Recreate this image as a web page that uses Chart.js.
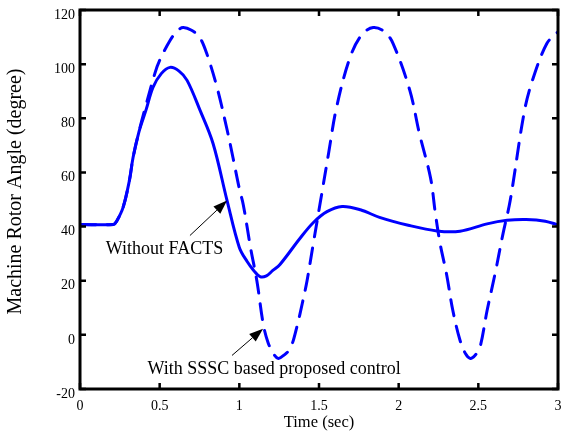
<!DOCTYPE html>
<html>
<head>
<meta charset="utf-8">
<script src="https://cdn.jsdelivr.net/npm/chart.js@4.4.1/dist/chart.umd.min.js"></script>
<style>
  html, body { margin: 0; padding: 0; background: #fff; }
  canvas { display: block; }
</style>
</head>
<body>
<canvas id="myChart" width="561" height="436"></canvas>
<script>
// rotor angle traces (time in sec, angle in degree)
const solidTime = [0, 0.21, 0.23, 0.27, 0.31, 0.333, 0.37, 0.414, 0.458, 0.51, 0.565, 0.62, 0.672, 0.753, 0.835, 0.923, 1.0, 1.05, 1.09, 1.13, 1.17, 1.21, 1.255, 1.38, 1.465, 1.55, 1.645, 1.76, 1.88, 2.06, 2.24, 2.385, 2.555, 2.68, 2.8, 2.92, 3.0];
const solidAngle = [40.8, 40.8, 42, 47, 57, 65.5, 75, 83, 91.4, 96.5, 98.8, 97.5, 94, 83, 70.7, 49.6, 32.3, 27, 23.8, 21.5, 21.8, 23.8, 26, 35.6, 41.5, 45.5, 47.4, 46.2, 43.4, 40.5, 38.4, 38.3, 41, 42.3, 42.6, 42, 40.6];

const dashTime = [0, 0.21, 0.23, 0.27, 0.31, 0.333, 0.37, 0.41, 0.47, 0.5, 0.565, 0.61, 0.647, 0.7, 0.75, 0.795, 0.86, 0.92, 0.96, 1.0, 1.025, 1.07, 1.11, 1.15, 1.18, 1.215, 1.245, 1.28, 1.32, 1.36, 1.395, 1.425, 1.465, 1.51, 1.56, 1.61, 1.695, 1.77, 1.84, 1.91, 1.965, 2.07, 2.13, 2.2, 2.23, 2.26, 2.3, 2.34, 2.385, 2.42, 2.45, 2.48, 2.51, 2.555, 2.605, 2.655, 2.7, 2.79, 2.845, 2.93, 3.0];
const dashAngle = [40.8, 40.8, 42, 47, 57, 65.5, 75, 84, 96.6, 101.4, 108.7, 112.3, 113.5, 112.5, 110, 104, 91.4, 76.6, 65.5, 54, 48, 32.3, 20, 4, -2.8, -7, -8.7, -7.5, -5, 2.7, 11.6, 20, 34, 49.6, 67, 84, 102.5, 111, 113.5, 112, 107.6, 90.3, 74.4, 58, 45, 33.7, 22.6, 9, -2, -7, -8.7, -7.5, -4.7, 9, 22.6, 37.4, 49.6, 82.9, 95, 107.6, 112];

const xTicks = [0, 0.5, 1, 1.5, 2, 2.5, 3];
const yTicks = [-20, 0, 20, 40, 60, 80, 100, 120];

const serif = "'Liberation Serif', 'Times New Roman', serif";

function pts(xs, ys) {
    return xs.map((t, i) => ({ x: t, y: ys[i] }));
}

// text notes with arrows, placed in data units
const notes = [
    { text: "Without FACTS", tx: 0.53, ty: 31.5, from: [0.69, 36.7], to: [0.923, 49.6] },
    { text: "With SSSC based proposed control", tx: 1.218, ty: -12.8, from: [0.954, -7.6], to: [1.149, 2.3] },
];

const frameAndNotes = {
    id: "frameAndNotes",
    afterDatasetsDraw(chart) {
        const { ctx, chartArea: a, scales: { x, y } } = chart;
        ctx.save();
        ctx.strokeStyle = "#000";
        ctx.lineWidth = 3;
        ctx.strokeRect(a.left, a.top, a.right - a.left, a.bottom - a.top);

        // inward tick marks on all four sides
        ctx.lineWidth = 2.5;
        ctx.beginPath();
        x.ticks.forEach(tk => {
            const px = x.getPixelForValue(tk.value);
            ctx.moveTo(px, a.bottom); ctx.lineTo(px, a.bottom - 6);
            ctx.moveTo(px, a.top); ctx.lineTo(px, a.top + 6);
        });
        y.ticks.forEach(tk => {
            const py = y.getPixelForValue(tk.value);
            ctx.moveTo(a.left, py); ctx.lineTo(a.left + 6, py);
            ctx.moveTo(a.right, py); ctx.lineTo(a.right - 6, py);
        });
        ctx.stroke();

        // notes
        ctx.fillStyle = "#000";
        ctx.font = "18px " + serif;
        ctx.textAlign = "center";
        ctx.textBaseline = "middle";
        notes.forEach(n => {
            ctx.fillText(n.text, x.getPixelForValue(n.tx), y.getPixelForValue(n.ty));
            const x0 = x.getPixelForValue(n.from[0]), y0 = y.getPixelForValue(n.from[1]);
            const x1 = x.getPixelForValue(n.to[0]), y1 = y.getPixelForValue(n.to[1]);
            const ang = Math.atan2(y1 - y0, x1 - x0);
            const len = 14, half = 5;
            const bx = x1 - len * Math.cos(ang), by = y1 - len * Math.sin(ang);
            ctx.lineWidth = 1;
            ctx.beginPath();
            ctx.moveTo(x0, y0); ctx.lineTo(bx, by);
            ctx.stroke();
            ctx.beginPath();
            ctx.moveTo(x1, y1);
            ctx.lineTo(bx + half * Math.sin(ang), by - half * Math.cos(ang));
            ctx.lineTo(bx - half * Math.sin(ang), by + half * Math.cos(ang));
            ctx.closePath();
            ctx.fill();
        });

        // y axis title
        ctx.font = "20px " + serif;
        ctx.translate(16, (a.top + a.bottom) / 2 - 8);
        ctx.rotate(-Math.PI / 2);
        ctx.fillText("Machine Rotor Angle (degree)", 0, 0);
        ctx.restore();
    }
};

const ctx = document.getElementById("myChart").getContext("2d");
new Chart(ctx, {
    type: "line",
    data: {
        datasets: [
            {
                label: "Without FACTS",
                data: pts(solidTime, solidAngle),
                borderColor: "#0000ff",
                borderWidth: 3,
                tension: 0.35,
                pointRadius: 0,
                fill: false,
            },
            {
                label: "With SSSC based proposed control",
                data: pts(dashTime, dashAngle),
                borderColor: "#0000ff",
                borderWidth: 3,
                borderDash: [16, 11],
                borderCapStyle: "round",
                tension: 0.35,
                pointRadius: 0,
                fill: false,
            },
        ],
    },
    options: {
        responsive: false,
        animation: false,
        layout: { padding: { top: 10, right: 3, left: 0, bottom: 0 } },
        plugins: {
            legend: { display: false },
            tooltip: { enabled: false },
        },
        scales: {
            x: {
                type: "linear",
                min: 0,
                max: 3,
                afterBuildTicks: s => { s.ticks = xTicks.map(v => ({ value: v })); },
                ticks: {
                    color: "#000",
                    font: { family: serif, size: 14 },
                    padding: 9,
                    maxRotation: 0,
                    callback: v => String(v),
                },
                grid: { display: false, drawTicks: false },
                border: { display: false },
                title: {
                    display: true,
                    text: "Time (sec)",
                    color: "#000",
                    font: { family: serif, size: 16.5 },
                    padding: { top: 0, bottom: 3 },
                },
                afterFit: s => {
                    s.height = 47;
                    s.paddingLeft = 0;
                    s.paddingRight = 0;
                },
            },
            y: {
                type: "linear",
                min: -20,
                max: 120,
                afterBuildTicks: s => { s.ticks = yTicks.map(v => ({ value: v })); },
                ticks: {
                    color: "#000",
                    font: { family: serif, size: 14 },
                    padding: 5,
                    labelOffset: 5,
                    callback: v => String(v),
                },
                grid: { display: false, drawTicks: false },
                border: { display: false },
                afterFit: s => {
                    s.width = 80;
                    s.paddingTop = 0;
                    s.paddingBottom = 0;
                },
            },
        },
    },
    plugins: [frameAndNotes],
});
</script>
</body>
</html>
